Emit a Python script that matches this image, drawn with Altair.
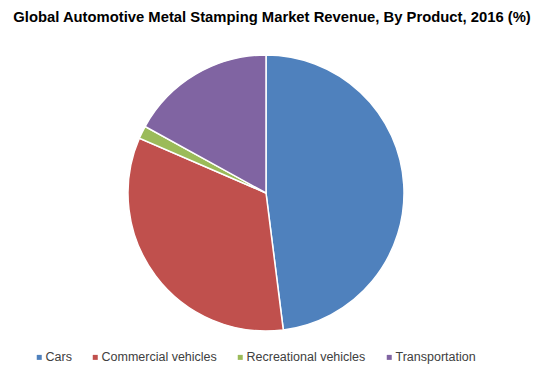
import altair as alt
import pandas as pd

categories = ["Cars", "Commercial vehicles", "Recreational vehicles", "Transportation"]
shares = [48.0, 33.5, 1.5, 17.0]
colors = ["#4F81BD", "#C0504D", "#9BBB59", "#8064A2"]
title_text = "Global Automotive Metal Stamping Market Revenue, By Product, 2016 (%)"

df = pd.DataFrame({"product": categories, "share": shares, "order": list(range(len(categories)))})

pie = alt.Chart(df).mark_arc(radius=138, stroke="white", strokeWidth=1.5).encode(
    theta=alt.Theta("share:Q", stack=True),
    order=alt.Order("order:Q"),
    color=alt.Color(
        "product:N",
        scale=alt.Scale(domain=categories, range=colors),
        sort=categories,
        legend=alt.Legend(
            title=None,
            orient="none",
            direction="horizontal",
            legendX=33,
            legendY=351,
            symbolType="square",
            symbolSize=25,
            symbolStrokeWidth=0,
            labelFont="Liberation Sans",
            labelFontSize=12.5,
            labelColor="#404040",
            labelOffset=0,
            columnPadding=17,
            labelLimit=300,
        ),
    ),
    x=alt.value(266),
    y=alt.value(193),
)

title = alt.Chart(pd.DataFrame({"t": [title_text]})).mark_text(
    font="Liberation Sans", fontSize=14.8, fontWeight="bold", color="#000000",
    align="center", baseline="middle"
).encode(text="t:N", x=alt.value(272), y=alt.value(18))

chart = alt.layer(pie, title).properties(
    width=547, height=378, padding=0, autosize=alt.AutoSizeParams(type="none")
).configure_view(stroke=None)

chart.save("out.html", embed_options={"renderer": "svg", "actions": False})
